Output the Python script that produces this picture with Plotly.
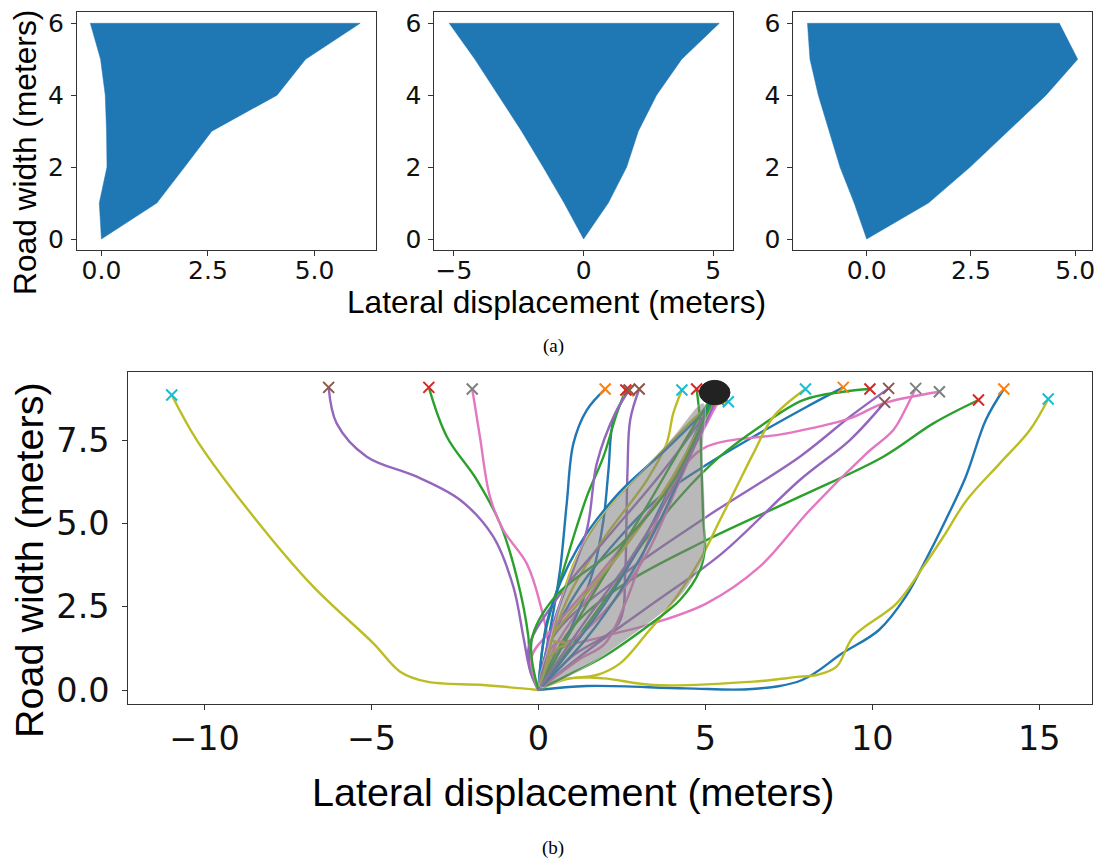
import plotly.graph_objects as go

W, H = 1099, 861

# ---------------- data: panel (a) fans ----------------
FAN_Y = [0, 1, 2, 3, 4, 5, 6, 6, 5, 4, 3, 2, 1]
FAN1_X = [0, 1.30, 1.95, 2.59, 4.12, 4.79, 6.07, -0.26, -0.02, 0.09, 0.12, 0.13, -0.05]
FAN2_X = [0, 0.95, 1.66, 2.11, 2.81, 3.78, 5.23, -5.18, -4.19, -3.29, -2.39, -1.56, -0.75]
FAN3_X = [0, 1.48, 2.48, 3.40, 4.30, 5.06, 4.62, -1.42, -1.36, -1.16, -0.90, -0.64, -0.30]

TOP_Y_TICKS = [0, 2, 4, 6]
TOP1_X_TICKS = [0, 2.5, 5.0]
TOP2_X_TICKS = [-5, 0, 5]
TOP3_X_TICKS = [0, 2.5, 5.0]

# ---------------- data: panel (b) trajectories ----------------
BLUE_X = [
    [0, 1.45, 4.4, 6.4, 7.9, 9.1, 10.2, 11.0, 11.6, 12.2, 12.8, 13.4, 13.94],
    [0, 0.35, 1.25, 2.45, 3.64, 4.94, 6.44, 8.04, 9.13],
    [0, 0.35, 0.65, 0.85, 1.05, 1.45, 2.0],
    [0, 0.95, 1.65, 1.95, 2.1, 2.25, 2.69],
    [0, 0.8, 2.0, 3.2, 4.2, 4.9, 5.3],
    [0, 0.3, 1.2, 2.4, 3.8, 5.0, 5.4],
    [0, 1.4, 2.6, 3.6, 4.5, 5.2],
]
BLUE_Y = [
    [0, 0.12, 0.05, 0.03, 0.3, 1.1, 1.8, 2.8, 3.9, 5.1, 6.4, 8.1, 9.03],
    [0, 1.4, 3.1, 4.6, 5.8, 6.7, 7.6, 8.5, 9.08],
    [0, 1.8, 3.6, 5.6, 7.4, 8.4, 9.03],
    [0, 1.8, 3.6, 5.1, 6.6, 8.1, 8.98],
    [0, 1.0, 2.6, 4.6, 6.6, 8.1, 8.9],
    [0, 2.2, 4.3, 5.9, 7.2, 8.4, 8.95],
    [0, 1.5, 3.2, 5.0, 7.0, 8.75],
]
GREEN_X = [
    [0, -0.25, -0.3, -0.65, -1.15, -1.84, -2.74, -3.28],
    [0, 0.95, 2.45, 5.04, 7.83, 10.33, 11.83, 13.18],
    [0, 0.9, 2.2, 3.2, 4.24, 5.43, 6.63, 7.93, 9.13, 9.93],
    [0, 0.2, 0.75, 1.45, 1.95, 2.35, 2.62],
    [0, 0.8, 1.95, 3.25, 4.24, 4.84, 4.99, 4.94, 4.89, 4.84, 4.74],
    [0, 1.0, 2.2, 3.3, 4.4, 5.2],
    [0, -0.2, 0.5, 2.5, 4.0, 5.0, 5.3],
]
GREEN_Y = [
    [0, 0.6, 1.6, 3.4, 5.0, 6.3, 7.6, 9.08],
    [0, 1.8, 3.1, 4.5, 5.8, 7.0, 8.0, 8.7],
    [0, 1.2, 3.0, 4.5, 5.8, 7.0, 7.9, 8.7, 8.95, 9.03],
    [0, 1.7, 3.6, 5.8, 7.0, 8.3, 9.0],
    [0, 0.4, 1.0, 1.9, 2.7, 3.6, 4.3, 5.1, 6.6, 8.1, 9.03],
    [0, 1.8, 3.8, 5.6, 7.5, 8.8],
    [0, 1.5, 2.8, 4.4, 6.2, 8.2, 8.85],
]
PURPLE_X = [
    [0, -0.25, -0.45, -0.75, -1.35, -2.34, -3.64, -5.14, -6.04, -6.28],
    [0, 0.45, 2.45, 5.04, 7.83, 9.33, 10.49],
    [0, 1.5, 3.44, 5.5, 7.83, 9.33, 10.37],
    [0, 1.0, 2.4, 2.6, 2.63, 2.67, 2.75, 3.02],
    [0, -0.3, 0.6, 2.0, 3.6, 4.8, 5.3],
    [0, 0.45, 1.45, 1.75, 2.3, 2.72],
    [0, 0.6, 1.5, 2.8, 4.0, 5.0, 5.4],
]
PURPLE_Y = [
    [0, 0.6, 1.6, 3.1, 4.6, 5.7, 6.4, 7.0, 8.0, 9.08],
    [0, 1.6, 3.4, 5.2, 7.0, 8.2, 9.05],
    [0, 1.2, 2.6, 4.1, 6.3, 7.5, 8.63],
    [0, 1.0, 2.0, 3.5, 4.6, 6.6, 8.1, 9.03],
    [0, 1.2, 2.8, 4.5, 6.4, 8.0, 8.8],
    [0, 2.0, 4.8, 6.8, 8.3, 9.0],
    [0, 0.9, 2.2, 4.0, 6.0, 8.0, 8.9],
]
PINK_X = [
    [0, 0.3, 0.05, -0.35, -1.05, -1.45, -1.75, -1.98],
    [0, 0.5, 1.5, 2.8, 4.0, 4.94, 7.44, 9.33, 10.33, 12.01],
    [0, 0.45, 1.95, 3.44, 5.04, 6.63, 8.13, 9.83, 10.63, 11.03, 11.3],
    [0, 0.5, 1.0, 2.2, 3.2, 4.2, 5.0, 5.5],
    [0, -0.2, 0.4, 1.6, 3.2, 4.6, 5.4],
    [0, 1.2, 2.0, 2.6, 3.3, 4.3, 5.3],
]
PINK_Y = [
    [0, 1.2, 2.6, 3.8, 4.8, 5.8, 7.6, 9.03],
    [0, 1.3, 2.8, 4.6, 6.2, 7.25, 7.7, 8.15, 8.6, 8.95],
    [0, 1.1, 1.6, 2.0, 2.6, 3.7, 5.4, 7.1, 7.8, 8.5, 9.05],
    [0, 1.4, 1.5, 2.6, 4.0, 6.2, 8.0, 8.8],
    [0, 1.0, 1.8, 3.2, 5.2, 7.2, 8.7],
    [0, 0.9, 1.4, 2.6, 4.5, 6.8, 8.8],
]
OLIVE_X = [
    [0, -1.65, -3.34, -4.14, -4.94, -6.74, -8.53, -10.23, -10.98],
    [0, 0.95, 1.95, 3.44, 6.44, 7.83, 8.34, 8.93, 9.43, 10.73, 11.53, 12.13, 12.83, 13.82, 14.72, 15.27],
    [0, 0.65, 1.75, 2.45, 3.25, 4.14, 4.84, 5.44, 5.94, 6.44, 7.04, 8.0],
    [0, 0.4, 1.0, 2.0, 3.25, 3.84, 4.04, 4.3],
    [0, 0.35, 0.65, 1.15, 1.95, 2.95, 3.94, 5.04, 5.69],
    [0, 0.5, 0.9, 0.4, 1.2, 2.6, 3.9, 4.9, 5.3],
]
OLIVE_Y = [
    [0, 0.15, 0.25, 0.55, 1.4, 3.1, 5.2, 7.5, 8.85],
    [0, 0.35, 0.35, 0.15, 0.25, 0.4, 0.45, 0.7, 1.6, 2.6, 3.7, 4.6, 5.7, 6.8, 7.8, 8.73],
    [0, 0.3, 0.45, 0.8, 1.7, 2.8, 3.9, 5.1, 6.1, 7.1, 8.2, 9.03],
    [0, 1.5, 3.0, 4.6, 6.3, 7.4, 8.3, 9.0],
    [0, 1.3, 2.6, 4.0, 5.3, 6.4, 7.4, 8.45, 8.65],
    [0, 1.2, 1.4, 1.5, 2.6, 4.3, 6.2, 8.0, 8.8],
]

GRAY_X = [0.05, 0.3, 0.65, 1.45, 2.3, 3.14, 4.04, 4.94, 4.92, 4.99, 4.94, 4.6, 4.14, 2.75, 1.25]
GRAY_Y = [0.1, 1.3, 2.6, 4.6, 5.7, 6.6, 7.6, 8.6, 7.1, 5.1, 4.0, 3.3, 2.7, 1.6, 0.6]

GOAL_X = [4.82, 5.74]
GOAL_Y = [8.56, 9.29]

BOT_X_TICKS = [-10, -5, 0, 5, 10, 15]
BOT_Y_TICKS = [0, 2.5, 5.0, 7.5]

TAB = {'blue': '#1f77b4', 'orange': '#ff7f0e', 'green': '#2ca02c', 'red': '#d62728',
       'purple': '#9467bd', 'brown': '#8c564b', 'pink': '#e377c2', 'gray': '#7f7f7f',
       'olive': '#bcbd22', 'cyan': '#17becf'}
MARKER_OF = {'blue': 'orange', 'green': 'red', 'purple': 'brown', 'pink': 'gray', 'olive': 'cyan'}
GROUPS = [('blue', BLUE_X, BLUE_Y), ('green', GREEN_X, GREEN_Y), ('purple', PURPLE_X, PURPLE_Y),
          ('pink', PINK_X, PINK_Y), ('olive', OLIVE_X, OLIVE_Y)]


def fx(p):
    return p / W


def fy(p):
    return 1 - p / H


fig = go.Figure()

# panel (a)
for i, fan_x in enumerate([FAN1_X, FAN2_X, FAN3_X]):
    sfx = '' if i == 0 else str(i + 1)
    fig.add_trace(go.Scatter(x=fan_x + [fan_x[0]], y=FAN_Y + [FAN_Y[0]], fill='toself',
                             fillcolor='#1f77b4', mode='lines',
                             line=dict(color='#1f77b4', width=0.5),
                             xaxis='x' + sfx, yaxis='y' + sfx, showlegend=False, hoverinfo='skip'))

# panel (b): lines (interleaved in colour-cycle order)
maxn = max(len(g[1]) for g in GROUPS)
ends = []
for k in range(maxn):
    for cname, XS, YS in GROUPS:
        if k < len(XS):
            fig.add_trace(go.Scatter(x=XS[k], y=YS[k], mode='lines',
                                     line=dict(color=TAB[cname], width=2.4, shape='spline', smoothing=1.0),
                                     xaxis='x4', yaxis='y4', showlegend=False, hoverinfo='skip'))
            ends.append((XS[k][-1], YS[k][-1], TAB[MARKER_OF[cname]]))

# gray region on top of lines
fig.add_trace(go.Scatter(x=GRAY_X + [GRAY_X[0]], y=GRAY_Y + [GRAY_Y[0]], fill='toself',
                         fillcolor='rgba(128,128,128,0.55)', mode='lines',
                         line=dict(color='rgba(255,255,255,0.5)', width=0.8, shape='spline', smoothing=1.0),
                         xaxis='x4', yaxis='y4', showlegend=False, hoverinfo='skip'))

# end markers
for ex, ey, col in ends:
    fig.add_trace(go.Scatter(x=[ex], y=[ey], mode='markers',
                             marker=dict(symbol='x-thin', size=11, line=dict(color=col, width=2)),
                             xaxis='x4', yaxis='y4', showlegend=False, hoverinfo='skip'))

fig.add_shape(type='circle', xref='x4', yref='y4', x0=GOAL_X[0], x1=GOAL_X[1], y0=GOAL_Y[0], y1=GOAL_Y[1],
              fillcolor='#222222', line=dict(color='#222222', width=1), layer='above')

axis_common = dict(showline=True, mirror=True, linecolor='#333333', linewidth=1, ticks='outside',
                   ticklen=5, tickwidth=1, tickcolor='#333333', showgrid=False, zeroline=False,
                   automargin=False)
top_font = dict(family='DejaVu Sans', size=25, color='#111111')
bot_font = dict(family='DejaVu Sans', size=33.5, color='#111111')

top_ydom = [fy(250), fy(12.3)]
layout = dict(
    width=W, height=H, margin=dict(l=0, r=0, t=0, b=0, autoexpand=False),
    paper_bgcolor='white', plot_bgcolor='white', showlegend=False,
    xaxis=dict(domain=[fx(77), fx(375.5)], range=[-0.573, 6.43], tickvals=TOP1_X_TICKS,
               tickformat='.1f', tickfont=top_font, anchor='y', ticklabelstandoff=-7, **axis_common),
    yaxis=dict(domain=top_ydom, range=[-0.306, 6.306], tickvals=TOP_Y_TICKS, tickfont=top_font,
               anchor='x', ticklabelstandoff=2, **axis_common),
    xaxis2=dict(domain=[fx(434.4), fx(733.3)], range=[-5.75, 5.77], tickvals=TOP2_X_TICKS,
                tickfont=top_font, anchor='y2', ticklabelstandoff=-7, **axis_common),
    yaxis2=dict(domain=top_ydom, range=[-0.306, 6.306], tickvals=TOP_Y_TICKS, tickfont=top_font,
                anchor='x2', ticklabelstandoff=2, **axis_common),
    xaxis3=dict(domain=[fx(793.3), fx(1092.3)], range=[-1.76, 5.41], tickvals=TOP3_X_TICKS,
                tickformat='.1f', tickfont=top_font, anchor='y3', ticklabelstandoff=-7, **axis_common),
    yaxis3=dict(domain=top_ydom, range=[-0.306, 6.306], tickvals=TOP_Y_TICKS, tickfont=top_font,
                anchor='x3', ticklabelstandoff=2, **axis_common),
    xaxis4=dict(domain=[fx(128.3), fx(1092)], range=[-12.28, 16.58], tickvals=BOT_X_TICKS,
                tickfont=bot_font, anchor='y4', **axis_common),
    yaxis4=dict(domain=[fy(704), fy(371.7)], range=[-0.42, 9.55], tickvals=BOT_Y_TICKS,
                tickformat='.1f', tickfont=bot_font, anchor='x4', ticklabelstandoff=6, **axis_common),
)
fig.update_layout(**layout)

label_font_top = dict(family='Liberation Sans, Arial', size=31.7, color='black')
label_font_bot = dict(family='Liberation Sans, Arial', size=39.5, color='black')
cap_font = dict(family='Liberation Serif, Times New Roman', size=19, color='black')

ann = [
    dict(text='Road width (meters)', x=fx(25), y=fy(153), textangle=-90, font=label_font_top),
    dict(text='Lateral displacement (meters)', x=fx(556.5), y=fy(302), font=label_font_top),
    dict(text='(a)', x=fx(553), y=fy(346), font=cap_font),
    dict(text='Road width (meters)', x=fx(29), y=fy(560), textangle=-90, font=label_font_bot),
    dict(text='Lateral displacement (meters)', x=fx(573.7), y=fy(792), font=label_font_bot),
    dict(text='(b)', x=fx(553), y=fy(848), font=cap_font),
]
for a in ann:
    fig.add_annotation(xref='paper', yref='paper', showarrow=False, xanchor='center', yanchor='middle', **a)

fig.write_html('out.html', config={'displayModeBar': False},
               post_script="document.body.style.margin='0px';document.body.style.padding='0px';")
